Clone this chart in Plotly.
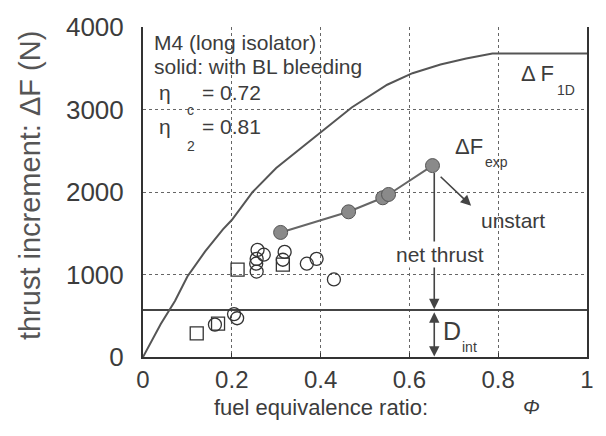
import plotly.graph_objects as go

# ---- data ----
phi_1d = [0, 0.016, 0.04, 0.072, 0.1, 0.14, 0.18, 0.2, 0.247, 0.3, 0.36, 0.402, 0.47, 0.55, 0.607, 0.67, 0.728, 0.787, 1.0]
dF_1d = [0, 167, 400, 679, 976, 1280, 1548, 1660, 2000, 2290, 2548, 2726, 3024, 3300, 3440, 3545, 3619, 3678, 3678]

phi_solid = [0.31, 0.463, 0.54, 0.553, 0.652]
dF_solid = [1510, 1760, 1930, 1970, 2320]

phi_open_c = [0.258, 0.272, 0.256, 0.255, 0.256, 0.319, 0.315, 0.369, 0.391, 0.43, 0.162, 0.205, 0.212]
dF_open_c = [1298, 1240, 1190, 1131, 1036, 1274, 1179, 1131, 1190, 940, 393, 520, 470]

phi_open_s = [0.121, 0.169, 0.213, 0.315]
dF_open_s = [286, 405, 1060, 1119]

D_int = 570
x_range = [0, 1]
x_ticks = [0, 0.2, 0.4, 0.6, 0.8, 1]
x_ticklabels = ["0", "0.2", "0.4", "0.6", "0.8", "1"]
y_ticks = [0, 1000, 2000, 3000, 4000]
y_ticklabels = ["0", "1000", "2000", "3000", "4000"]

INK = "#3c3c3c"
FONT = "Liberation Sans, Arial, sans-serif"

fig = go.Figure()

fig.add_trace(go.Scatter(x=x_range, y=[D_int, D_int], mode="lines",
                         line=dict(color="#444444", width=2), hoverinfo="skip"))
fig.add_trace(go.Scatter(x=phi_1d, y=dF_1d, mode="lines",
                         line=dict(color="#555555", width=2), hoverinfo="skip"))
fig.add_trace(go.Scatter(x=phi_open_c, y=dF_open_c, mode="markers",
                         marker=dict(symbol="circle-open", size=13,
                                     line=dict(color="#333333", width=1.3), color="#333333")))
fig.add_trace(go.Scatter(x=phi_open_s, y=dF_open_s, mode="markers",
                         marker=dict(symbol="square-open", size=13,
                                     line=dict(color="#333333", width=1.3), color="#333333")))
fig.add_trace(go.Scatter(x=phi_solid, y=dF_solid, mode="lines+markers",
                         line=dict(color="#666666", width=2),
                         marker=dict(symbol="circle", size=14, color="#8a8a8a",
                                     line=dict(color="#555555", width=1))))

ann = []
def txt(x, y, s, size=21, xanchor="center", yanchor="middle", bg=None):
    d = dict(x=x, y=y, xref="x", yref="y", text=s, showarrow=False,
             font=dict(family=FONT, size=size, color=INK),
             xanchor=xanchor, yanchor=yanchor)
    if bg:
        d["bgcolor"] = bg
    ann.append(d)

def arrow(x0, y0, x1, y1, side="end"):
    ann.append(dict(x=x1, y=y1, ax=x0, ay=y0, xref="x", yref="y", axref="x", ayref="y",
                    text="", showarrow=True, arrowhead=2, arrowsize=1.3, arrowwidth=1.6,
                    arrowcolor="#444444", arrowside=side, standoff=0, startstandoff=0))

# arrows
arrow(0.656, 2250, 0.656, D_int + 10)
arrow(0.656, D_int - 10, 0.656, 5, side="end+start")
arrow(0.667, 2202, 0.739, 1833)

# texts in the box
txt(0.020, 3810, "M4 (long isolator)", size=21, xanchor="left")
txt(0.020, 3525, "solid: with BL bleeding", size=21, xanchor="left")
txt(0.031, 3210, "η", size=21, xanchor="left")
txt(0.094, 3000, "c", size=14, xanchor="left")
txt(0.128, 3210, "= 0.72", size=21, xanchor="left")
txt(0.031, 2800, "η", size=21, xanchor="left")
txt(0.094, 2560, "2", size=14, xanchor="left")
txt(0.128, 2800, "= 0.81", size=21, xanchor="left")

txt(0.888, 3440, "Δ F", size=22)
txt(0.953, 3238, "1D", size=14)
txt(0.735, 2548, "ΔF", size=22)
txt(0.796, 2369, "exp", size=14)
txt(0.834, 1655, "unstart", size=21)
txt(0.670, 1238, "net thrust", size=21, bg="white")
txt(0.697, 321, "D", size=25)
txt(0.735, 119, "int", size=14)

# axis titles
ann.append(dict(x=0.4, y=-0.152, xref="paper", yref="paper", text="fuel equivalence ratio:",
                showarrow=False, font=dict(family=FONT, size=22, color=INK),
                xanchor="center", yanchor="middle"))
ann.append(dict(x=0.874, y=-0.152, xref="paper", yref="paper", text="<i>Φ</i>",
                showarrow=False, font=dict(family=FONT, size=20, color=INK),
                xanchor="center", yanchor="middle"))
ann.append(dict(x=-0.253, y=0.52, xref="paper", yref="paper", text="thrust increment: ΔF (N)",
                showarrow=False, textangle=-90, font=dict(family=FONT, size=29, color="#555555"),
                xanchor="center", yanchor="middle"))

fig.update_layout(
    width=606, height=436,
    margin=dict(l=143, r=16, t=21, b=79),
    paper_bgcolor="white", plot_bgcolor="white",
    showlegend=False,
    annotations=ann,
    xaxis=dict(range=x_range, tickvals=x_ticks, ticktext=x_ticklabels,
               showgrid=True, gridcolor="#666666", gridwidth=1.2, griddash="dot",
               zeroline=False, showline=True, linecolor="#333333", linewidth=2,
               ticks="inside", ticklen=4, tickcolor="#333333",
               tickfont=dict(family=FONT, size=24, color=INK), ticklabelstandoff=0),
    yaxis=dict(range=[0, 4000], tickvals=y_ticks, ticktext=y_ticklabels,
               showgrid=True, gridcolor="#666666", gridwidth=1.2, griddash="dot",
               zeroline=False, showline=True, linecolor="#333333", linewidth=2,
               mirror=True, ticks="",
               tickfont=dict(family=FONT, size=26, color=INK), ticklabelstandoff=12),
)

fig.write_html("out.html")
